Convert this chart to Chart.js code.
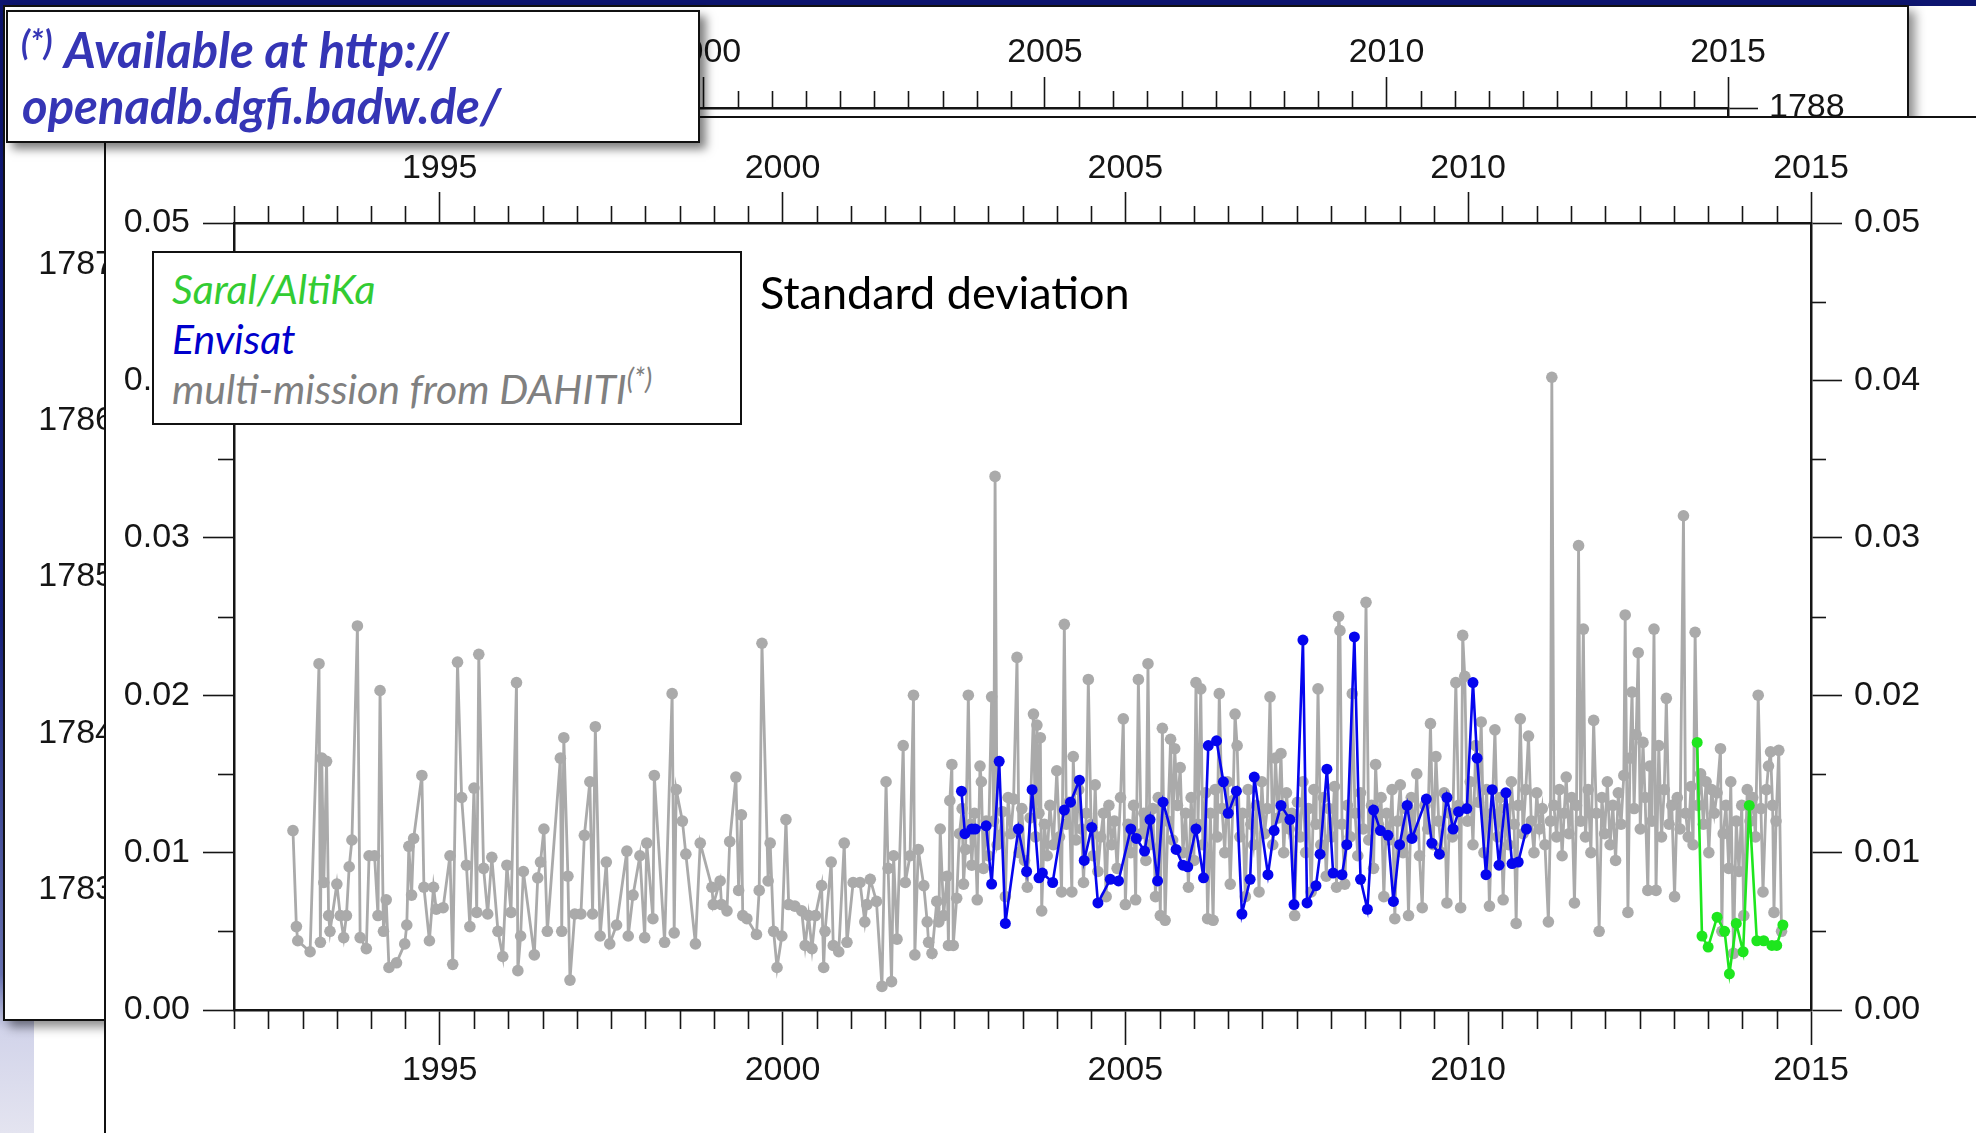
<!DOCTYPE html>
<html>
<head>
<meta charset="utf-8">
<script src="https://cdn.jsdelivr.net/npm/chart.js@4.4.0/dist/chart.umd.min.js"></script>
<style>
  html, body { margin: 0; padding: 0; }
  body { position: relative; width: 1976px; height: 1133px; overflow: hidden; background: #fff; }
  .abs { position: absolute; }
  #topBand { left: 0; top: 0; width: 1976px; height: 6px; background: #0d1570; }
  #leftStrip { left: 0; top: 0; width: 34px; height: 1133px;
    background: linear-gradient(#0d1570 0%, #18227e 55%, #6a74b4 86%, #d2d4ea 91%, #e4e4f0 100%); }
  #backPanel { left: 3px; top: 5px; width: 1906px; height: 1016px; box-sizing: border-box;
    background: #fff; border: 2px solid #111; box-shadow: 6px 6px 10px rgba(0,0,0,0.45); }
  #backChart { left: 5px; top: 10px; }
  #frontPanel { left: 104px; top: 116px; width: 1872px; height: 1017px; box-sizing: border-box;
    background: #fff; border-left: 2px solid #111; border-top: 2px solid #111; }
  #frontChart { left: 105px; top: 119px; }
  #legendBox { left: 152px; top: 251px; width: 590px; height: 174px; box-sizing: border-box;
    background: #fff; border: 2px solid #111; }
  .lg { font-family: Lato, sans-serif; font-style: italic; font-size: 41px; line-height: 41px; white-space: nowrap; }
  .lg sup { font-size: 28px; vertical-align: 15px; line-height: 0; }
  #title { left: 760px; top: 270px; font-family: Lato, sans-serif; font-size: 45px; line-height: 45px; color: #000; white-space: nowrap; }
  #noteBox { left: 6px; top: 10px; width: 694px; height: 133px; box-sizing: border-box;
    background: #fff; border: 2px solid #111; box-shadow: 6px 6px 9px rgba(0,0,0,0.5); }
  .note { font-family: Lato, sans-serif; font-weight: bold; font-style: italic; font-size: 49px; line-height: 49px;
    color: #3535b5; white-space: nowrap; }
</style>
</head>
<body>
<div id="topBand" class="abs"></div>
<div id="leftStrip" class="abs"></div>
<div id="backPanel" class="abs"></div>
<canvas id="backChart" class="abs" width="1902" height="1010"></canvas>
<div id="frontPanel" class="abs"></div>
<canvas id="frontChart" class="abs" width="1871" height="1014"></canvas>
<div id="legendBox" class="abs"></div>
<div class="abs lg" style="left:172px; top:268px; color:#33cc33;">Saral/AltiKa</div>
<div class="abs lg" style="left:172px; top:318px; color:#0000cc;">Envisat</div>
<div class="abs lg" style="left:172px; top:368px; color:#808080;">multi-mission from DAHITI<sup>(*)</sup></div>
<div id="title" class="abs">Standard deviation</div>
<div id="noteBox" class="abs"></div>
<div class="abs note" style="left:21px; top:25px; font-size:34px; line-height:34px;">(*)</div>
<div class="abs note" style="left:64px; top:25px;">Available at http://</div>
<div class="abs note" style="left:22px; top:81px;">openadb.dgfi.badw.de/</div>

<script>
// multi-mission water level std-dev (DAHITI), [decimal year, m]
var multiMission = [
  [1992.86,0.0114],[1992.91,0.0053],[1992.93,0.0044],[1993.11,0.0037],[1993.24,0.0220],[1993.26,0.0043],
  [1993.28,0.0160],[1993.31,0.0081],[1993.35,0.0158],[1993.38,0.0060],[1993.40,0.0050],[1993.50,0.0080],
  [1993.55,0.0060],[1993.60,0.0046],[1993.64,0.0060],[1993.68,0.0091],[1993.72,0.0108],[1993.80,0.0244],
  [1993.84,0.0046],[1993.93,0.0039],[1993.97,0.0098],[1994.05,0.0098],[1994.10,0.0060],[1994.13,0.0203],
  [1994.18,0.0050],[1994.22,0.0070],[1994.26,0.0027],[1994.37,0.0030],[1994.49,0.0042],[1994.52,0.0054],
  [1994.55,0.0104],[1994.59,0.0073],[1994.62,0.0109],[1994.74,0.0149],[1994.77,0.0078],[1994.85,0.0044],
  [1994.91,0.0078],[1994.95,0.0064],[1995.05,0.0065],[1995.15,0.0098],[1995.19,0.0029],[1995.26,0.0221],
  [1995.32,0.0135],[1995.39,0.0092],[1995.44,0.0053],[1995.50,0.0141],[1995.54,0.0062],[1995.57,0.0226],
  [1995.64,0.0090],[1995.70,0.0061],[1995.76,0.0097],[1995.85,0.0050],[1995.92,0.0034],[1995.98,0.0092],
  [1996.04,0.0062],[1996.12,0.0208],[1996.14,0.0025],[1996.18,0.0047],[1996.22,0.0088],[1996.38,0.0035],
  [1996.43,0.0084],[1996.47,0.0094],[1996.52,0.0115],[1996.57,0.0050],[1996.76,0.0160],[1996.78,0.0050],
  [1996.81,0.0173],[1996.87,0.0085],[1996.90,0.0019],[1996.97,0.0061],[1997.06,0.0061],[1997.11,0.0111],
  [1997.19,0.0145],[1997.23,0.0061],[1997.27,0.0180],[1997.34,0.0047],[1997.43,0.0094],[1997.48,0.0042],
  [1997.58,0.0054],[1997.73,0.0101],[1997.75,0.0047],[1997.82,0.0073],[1997.92,0.0098],[1997.99,0.0046],
  [1998.02,0.0106],[1998.11,0.0058],[1998.13,0.0149],[1998.28,0.0043],[1998.39,0.0201],[1998.42,0.0049],
  [1998.45,0.0140],[1998.54,0.0120],[1998.59,0.0099],[1998.73,0.0042],[1998.80,0.0106],[1998.97,0.0078],
  [1998.99,0.0067],[1999.09,0.0082],[1999.11,0.0067],[1999.19,0.0063],[1999.23,0.0107],[1999.32,0.0148],
  [1999.36,0.0076],[1999.40,0.0124],[1999.42,0.0060],[1999.48,0.0058],[1999.62,0.0048],[1999.66,0.0076],
  [1999.70,0.0233],[1999.79,0.0082],[1999.82,0.0106],[1999.87,0.0050],[1999.92,0.0027],[1999.99,0.0047],
  [2000.05,0.0121],[2000.09,0.0067],[2000.18,0.0066],[2000.28,0.0063],[2000.33,0.0041],[2000.38,0.0060],
  [2000.43,0.0039],[2000.48,0.0060],[2000.57,0.0079],[2000.60,0.0027],[2000.62,0.0050],[2000.71,0.0094],
  [2000.74,0.0041],[2000.82,0.0037],[2000.90,0.0106],[2000.94,0.0043],[2001.03,0.0081],[2001.13,0.0081],
  [2001.20,0.0056],[2001.23,0.0067],[2001.28,0.0083],[2001.37,0.0069],[2001.45,0.0015],[2001.51,0.0145],
  [2001.54,0.0090],[2001.59,0.0018],[2001.62,0.0098],[2001.67,0.0045],[2001.76,0.0168],[2001.79,0.0081],
  [2001.86,0.0098],[2001.91,0.0200],[2001.93,0.0035],[2001.98,0.0102],[2002.06,0.0079],[2002.11,0.0056],
  [2002.13,0.0043],[2002.18,0.0036],[2002.25,0.0069],[2002.28,0.0056],[2002.30,0.0115],[2002.35,0.0060],
  [2002.40,0.0085],[2002.42,0.0041],[2002.44,0.0133],[2002.47,0.0156],[2002.49,0.0041],[2002.54,0.0071],
  [2002.58,0.0112],[2002.62,0.0128],[2002.64,0.0080],[2002.67,0.0102],[2002.71,0.0200],[2002.74,0.0118],
  [2002.76,0.0092],[2002.80,0.0125],[2002.84,0.0070],[2002.88,0.0155],[2002.90,0.0145],[2002.93,0.0090],
  [2002.97,0.0120],[2003.00,0.0098],[2003.05,0.0199],[2003.08,0.0120],[2003.10,0.0339],[2003.13,0.0105],
  [2003.17,0.0111],[2003.21,0.0126],[2003.25,0.0072],[2003.29,0.0135],[2003.33,0.0112],[2003.37,0.0134],
  [2003.42,0.0224],[2003.45,0.0100],[2003.49,0.0128],[2003.53,0.0095],[2003.57,0.0078],[2003.61,0.0122],
  [2003.66,0.0188],[2003.69,0.0110],[2003.71,0.0181],[2003.74,0.0125],[2003.76,0.0173],[2003.78,0.0063],
  [2003.82,0.0118],[2003.86,0.0098],[2003.90,0.0130],[2003.95,0.0105],[2004.00,0.0152],[2004.04,0.0110],
  [2004.07,0.0075],[2004.11,0.0245],[2004.14,0.0118],[2004.18,0.0132],[2004.22,0.0075],[2004.24,0.0161],
  [2004.28,0.0108],[2004.32,0.0140],[2004.36,0.0115],[2004.39,0.0081],[2004.43,0.0125],[2004.46,0.0210],
  [2004.50,0.0118],[2004.53,0.0098],[2004.56,0.0143],[2004.60,0.0088],[2004.64,0.0110],[2004.68,0.0125],
  [2004.72,0.0072],[2004.76,0.0130],[2004.80,0.0105],[2004.84,0.0120],[2004.88,0.0090],[2004.93,0.0135],
  [2004.97,0.0185],[2005.00,0.0067],[2005.04,0.0118],[2005.08,0.0100],[2005.12,0.0130],[2005.15,0.0070],
  [2005.19,0.0210],[2005.23,0.0112],[2005.27,0.0125],[2005.30,0.0095],[2005.33,0.0220],[2005.36,0.0105],
  [2005.40,0.0128],[2005.44,0.0072],[2005.48,0.0135],[2005.51,0.0060],[2005.54,0.0179],[2005.58,0.0057],
  [2005.62,0.0120],[2005.66,0.0172],[2005.69,0.0108],[2005.72,0.0166],[2005.76,0.0130],[2005.80,0.0154],
  [2005.84,0.0100],[2005.88,0.0125],[2005.92,0.0078],[2005.96,0.0135],[2006.00,0.0095],[2006.03,0.0208],
  [2006.06,0.0118],[2006.10,0.0204],[2006.13,0.0105],[2006.17,0.0138],[2006.20,0.0058],[2006.24,0.0125],
  [2006.28,0.0057],[2006.31,0.0140],[2006.34,0.0110],[2006.37,0.0201],[2006.41,0.0128],[2006.45,0.0100],
  [2006.49,0.0145],[2006.53,0.0080],[2006.57,0.0133],[2006.60,0.0188],[2006.63,0.0168],[2006.67,0.0110],
  [2006.71,0.0125],[2006.75,0.0072],[2006.79,0.0140],[2006.83,0.0118],[2006.87,0.0105],[2006.91,0.0130],
  [2006.95,0.0075],[2006.99,0.0145],[2007.03,0.0112],[2007.07,0.0128],[2007.11,0.0199],[2007.15,0.0105],
  [2007.19,0.0160],[2007.23,0.0122],[2007.27,0.0163],[2007.31,0.0100],[2007.35,0.0138],[2007.39,0.0115],
  [2007.43,0.0125],[2007.47,0.0060],[2007.51,0.0132],[2007.55,0.0110],[2007.59,0.0145],[2007.63,0.0100],
  [2007.67,0.0128],[2007.71,0.0075],[2007.75,0.0140],[2007.78,0.0118],[2007.81,0.0204],[2007.85,0.0105],
  [2007.89,0.0135],[2007.93,0.0085],[2007.97,0.0128],[2008.01,0.0110],[2008.05,0.0142],[2008.08,0.0078],
  [2008.11,0.0250],[2008.13,0.0241],[2008.16,0.0118],[2008.20,0.0080],[2008.24,0.0130],[2008.28,0.0110],
  [2008.31,0.0201],[2008.35,0.0125],[2008.39,0.0098],[2008.43,0.0138],[2008.47,0.0115],[2008.51,0.0259],
  [2008.55,0.0108],[2008.59,0.0130],[2008.62,0.0090],[2008.65,0.0156],[2008.69,0.0118],[2008.73,0.0135],
  [2008.77,0.0072],[2008.81,0.0125],[2008.85,0.0108],[2008.89,0.0140],[2008.93,0.0058],[2008.97,0.0120],
  [2009.01,0.0143],[2009.05,0.0100],[2009.09,0.0128],[2009.13,0.0060],[2009.17,0.0135],[2009.21,0.0112],
  [2009.25,0.0150],[2009.29,0.0098],[2009.33,0.0065],[2009.37,0.0130],[2009.41,0.0115],[2009.45,0.0182],
  [2009.49,0.0105],[2009.53,0.0161],[2009.57,0.0120],[2009.61,0.0100],[2009.65,0.0138],[2009.69,0.0068],
  [2009.73,0.0125],[2009.77,0.0110],[2009.82,0.0208],[2009.86,0.0130],[2009.89,0.0065],[2009.92,0.0238],
  [2009.95,0.0212],[2009.99,0.0120],[2010.03,0.0145],[2010.07,0.0105],[2010.11,0.0168],[2010.15,0.0132],
  [2010.19,0.0183],[2010.23,0.0100],[2010.27,0.0140],[2010.31,0.0066],[2010.35,0.0125],[2010.39,0.0178],
  [2010.43,0.0110],[2010.47,0.0135],[2010.51,0.0070],[2010.55,0.0128],[2010.59,0.0105],[2010.63,0.0145],
  [2010.67,0.0118],[2010.70,0.0055],[2010.73,0.0130],[2010.76,0.0185],[2010.80,0.0112],[2010.84,0.0140],
  [2010.88,0.0174],[2010.92,0.0120],[2010.96,0.0100],[2011.00,0.0138],[2011.04,0.0115],[2011.08,0.0128],
  [2011.12,0.0105],[2011.17,0.0056],[2011.20,0.0120],[2011.22,0.0402],[2011.25,0.0130],[2011.29,0.0110],
  [2011.33,0.0140],[2011.37,0.0098],[2011.40,0.0125],[2011.43,0.0148],[2011.47,0.0112],[2011.51,0.0135],
  [2011.55,0.0068],[2011.58,0.0130],[2011.61,0.0295],[2011.64,0.0120],[2011.68,0.0242],[2011.71,0.0110],
  [2011.75,0.0140],[2011.79,0.0100],[2011.83,0.0184],[2011.87,0.0125],[2011.91,0.0050],[2011.95,0.0135],
  [2011.99,0.0112],[2012.03,0.0145],[2012.07,0.0105],[2012.11,0.0130],[2012.15,0.0095],[2012.19,0.0138],
  [2012.23,0.0118],[2012.27,0.0149],[2012.29,0.0251],[2012.33,0.0062],[2012.36,0.0160],[2012.39,0.0202],
  [2012.42,0.0128],[2012.45,0.0175],[2012.48,0.0227],[2012.51,0.0115],[2012.55,0.0170],[2012.58,0.0135],
  [2012.62,0.0076],[2012.65,0.0155],[2012.68,0.0120],[2012.71,0.0242],[2012.74,0.0076],[2012.78,0.0168],
  [2012.82,0.0110],[2012.86,0.0140],[2012.89,0.0198],[2012.93,0.0118],[2012.97,0.0130],[2013.01,0.0072],
  [2013.05,0.0135],[2013.09,0.0115],[2013.14,0.0314],[2013.17,0.0125],[2013.21,0.0110],[2013.25,0.0142],
  [2013.28,0.0105],[2013.31,0.0240],[2013.35,0.0130],[2013.39,0.0150],[2013.43,0.0118],[2013.47,0.0145],
  [2013.51,0.0100],[2013.55,0.0140],[2013.59,0.0125],[2013.63,0.0138],[2013.68,0.0166],[2013.70,0.0050],
  [2013.72,0.0112],[2013.76,0.0130],[2013.80,0.0090],[2013.83,0.0145],[2013.87,0.0036],[2013.91,0.0120],
  [2013.95,0.0088],[2013.99,0.0130],[2014.02,0.0060],[2014.07,0.0140],[2014.11,0.0120],[2014.15,0.0135],
  [2014.19,0.0110],[2014.23,0.0200],[2014.27,0.0128],[2014.30,0.0075],[2014.35,0.0140],[2014.38,0.0155],
  [2014.41,0.0164],[2014.44,0.0130],[2014.46,0.0062],[2014.49,0.0120],[2014.53,0.0165],[2014.57,0.0050]
];

var envisat = [
  [2002.61,0.0139],[2002.66,0.0112],[2002.76,0.0115],[2002.81,0.0115],[2002.97,0.0117],[2003.05,0.0080],
  [2003.16,0.0158],[2003.25,0.0055],[2003.44,0.0115],[2003.56,0.0088],[2003.64,0.0140],[2003.74,0.0084],
  [2003.79,0.0087],[2003.94,0.0081],[2004.11,0.0127],[2004.20,0.0132],[2004.33,0.0146],[2004.40,0.0095],
  [2004.51,0.0116],[2004.60,0.0068],[2004.78,0.0083],[2004.90,0.0082],[2005.08,0.0115],[2005.16,0.0109],
  [2005.28,0.0101],[2005.36,0.0121],[2005.47,0.0082],[2005.55,0.0132],[2005.74,0.0102],[2005.84,0.0092],
  [2005.91,0.0091],[2006.03,0.0115],[2006.14,0.0084],[2006.21,0.0168],[2006.33,0.0171],[2006.43,0.0145],
  [2006.50,0.0125],[2006.62,0.0139],[2006.70,0.0061],[2006.82,0.0083],[2006.88,0.0148],[2007.08,0.0086],
  [2007.17,0.0114],[2007.27,0.0130],[2007.40,0.0121],[2007.46,0.0067],[2007.59,0.0235],[2007.65,0.0068],
  [2007.78,0.0079],[2007.84,0.0099],[2007.94,0.0153],[2008.03,0.0087],[2008.16,0.0086],[2008.23,0.0105],
  [2008.34,0.0237],[2008.43,0.0083],[2008.53,0.0064],[2008.62,0.0127],[2008.72,0.0114],[2008.83,0.0111],
  [2008.91,0.0069],[2009.00,0.0105],[2009.11,0.0130],[2009.18,0.0109],[2009.39,0.0134],[2009.47,0.0106],
  [2009.58,0.0099],[2009.69,0.0135],[2009.78,0.0115],[2009.86,0.0126],[2009.98,0.0128],[2010.07,0.0208],
  [2010.13,0.0160],[2010.26,0.0086],[2010.35,0.0140],[2010.45,0.0092],[2010.55,0.0138],[2010.64,0.0093],
  [2010.73,0.0094],[2010.85,0.0115]
];

var saral = [
  [2013.34,0.0170],[2013.41,0.0047],[2013.50,0.0040],[2013.63,0.0059],[2013.74,0.0050],[2013.81,0.0023],
  [2013.91,0.0055],[2014.01,0.0037],[2014.10,0.0130],[2014.21,0.0044],[2014.31,0.0044],[2014.43,0.0041],
  [2014.50,0.0041],[2014.59,0.0054]
];

var yearLabels = [1995, 2000, 2005, 2010, 2015];
var stdLabels = [0, 0.01, 0.02, 0.03, 0.04, 0.05];
var levelLabels = [1783, 1784, 1785, 1786, 1787];

var TICK_FONT = { family: "'Liberation Sans', Arial, sans-serif", size: 34 };
var INK = '#151515';

function toXY(rows) {
  return rows.map(function (r) { return { x: r[0], y: r[1] }; });
}

function isYearMajor(v) { return v % 5 === 0; }
function isStdMajor(v) { return Math.round(v * 1000) % 10 === 0; }
function isLevelMajor(v) { return Number.isInteger(v); }

// short ticks between the labelled ones; lengths per scale id
function minorTickPlugin(spec) {
  return {
    id: 'minorTicks',
    afterDraw: function (chart) {
      var ctx = chart.ctx;
      var area = chart.chartArea;
      ctx.save();
      ctx.strokeStyle = INK;
      ctx.lineWidth = 1.6;
      Object.keys(spec).forEach(function (id) {
        var scale = chart.scales[id];
        var s = spec[id];
        scale.ticks.forEach(function (t) {
          if (s.major(t.value)) return;
          var p = Math.round(scale.getPixelForValue(t.value)) + 0.5;
          ctx.beginPath();
          if (scale.position === 'bottom') { ctx.moveTo(p, area.bottom); ctx.lineTo(p, area.bottom + s.len); }
          else if (scale.position === 'top') { ctx.moveTo(p, area.top); ctx.lineTo(p, area.top - s.len); }
          else if (scale.position === 'left') { ctx.moveTo(area.left, p); ctx.lineTo(area.left - s.len, p); }
          else { ctx.moveTo(area.right, p); ctx.lineTo(area.right + s.len, p); }
          ctx.stroke();
        });
      });
      ctx.restore();
    }
  };
}

function axis(pos, min, max, step, major, label, tickLen, pad, size) {
  return {
    type: 'linear',
    position: pos,
    min: min,
    max: max,
    afterFit: function (s) {
      // fixed box sizes so the plot area lands where it should
      if (pos === 'left' || pos === 'right') s.width = size; else s.height = size;
      s.paddingTop = 0; s.paddingBottom = 0; s.paddingLeft = 0; s.paddingRight = 0;
    },
    ticks: {
      stepSize: step,
      autoSkip: false,
      maxRotation: 0,
      padding: pad,
      font: TICK_FONT,
      color: INK,
      callback: label
    },
    grid: {
      drawOnChartArea: false,
      drawTicks: true,
      tickLength: tickLen,
      tickWidth: 1.6,
      tickColor: function (c) { return major(c.tick.value) ? INK : 'rgba(0,0,0,0)'; }
    },
    border: { display: true, color: INK, width: 2.5 }
  };
}

function yearText(v) { return yearLabels.indexOf(v) >= 0 ? String(v) : ''; }
function stdText(v) {
  var r = Math.round(v * 100) / 100;
  return isStdMajor(v) && stdLabels.indexOf(r) >= 0 ? r.toFixed(2) : '';
}

var Plot = {
  back: null,
  front: null,
  render: function () {
    // water level panel sitting behind the std-dev panel
    this.back = new Chart(document.getElementById('backChart'), {
      type: 'scatter',
      data: { datasets: [] },
      options: {
        responsive: false,
        animation: false,
        events: [],
        layout: { padding: { left: 0, right: 0, top: 0, bottom: 13 } },
        plugins: { legend: { display: false }, tooltip: { enabled: false } },
        scales: {
          x: axis('top', 1992, 2015, 0.5, isYearMajor,
            function (v) { return (v % 5 === 0) ? String(v) : ''; }, 31, 4, 98),
          y: axis('left', 1782.25, 1788, 1, isLevelMajor,
            function (v) { return levelLabels.indexOf(v) >= 0 ? String(v) : ''; }, 31, 12, 152),
          y2: axis('right', 1782.25, 1788, 1, function (v) { return v === 1788; },
            function (v) { return v === 1788 ? '1788' : ''; }, 30, 11, 179)
        }
      },
      plugins: [minorTickPlugin({ x: { len: 17, major: isYearMajor } })]
    });

    this.front = new Chart(document.getElementById('frontChart'), {
      type: 'scatter',
      data: {
        datasets: [{
          label: 'Saral/AltiKa',
          data: toXY(saral),
          showLine: true,
          borderColor: '#1ee61e',
          backgroundColor: '#1ee61e',
          borderWidth: 2.6,
          pointRadius: 5.5,
          pointBorderWidth: 0,
          order: 1
        }, {
          label: 'Envisat',
          data: toXY(envisat),
          showLine: true,
          borderColor: '#0505ee',
          backgroundColor: '#0505ee',
          borderWidth: 2.6,
          pointRadius: 5.5,
          pointBorderWidth: 0,
          order: 2
        }, {
          label: 'multi-mission from DAHITI',
          data: toXY(multiMission),
          showLine: true,
          borderColor: '#aaaaaa',
          backgroundColor: '#aaaaaa',
          borderWidth: 2.8,
          pointRadius: 5.8,
          pointBorderWidth: 0,
          order: 3
        }]
      },
      options: {
        responsive: false,
        animation: false,
        events: [],
        layout: { padding: 0 },
        plugins: { legend: { display: false }, tooltip: { enabled: false } },
        scales: {
          x: axis('bottom', 1992, 2015, 0.5, isYearMajor, yearText, 35, 5, 123),
          x2: axis('top', 1992, 2015, 0.5, isYearMajor, yearText, 31, 3, 104),
          y: axis('left', 0, 0.05, 0.005, isStdMajor, stdText, 31, 13, 129),
          y2: axis('right', 0, 0.05, 0.005, isStdMajor, stdText, 31, 12, 165)
        }
      },
      plugins: [minorTickPlugin({
        x: { len: 19, major: isYearMajor },
        x2: { len: 17, major: isYearMajor },
        y: { len: 16, major: isStdMajor },
        y2: { len: 15, major: isStdMajor }
      })]
    });
  }
};

Plot.render();
</script>
</body>
</html>
